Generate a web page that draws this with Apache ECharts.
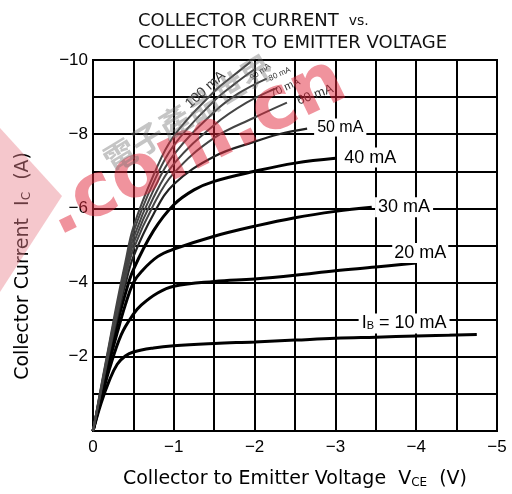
<!DOCTYPE html>
<html>
<head>
<meta charset="utf-8">
<script src="https://cdn.jsdelivr.net/npm/echarts@6/dist/echarts.min.js"></script>
<style>
  html, body { margin: 0; padding: 0; background: #fff; }
  #chart { width: 512px; height: 494px; }
</style>
</head>
<body>
<div id="chart"></div>
<script>
// collector-emitter voltage ticks (V) and collector current ticks (A)
var vceTicks = [0, -1, -2, -3, -4, -5];
var icTicks = [0, -2, -4, -6, -8, -10];

// one curve per base current, points are [VCE, IC]
var ib10 = [[0,0],[-0.1,-0.75],[-0.2,-1.35],[-0.3,-1.8],[-0.4,-2.02],[-0.5,-2.13],[-0.75,-2.24],[-1,-2.3],[-1.5,-2.36],[-2,-2.4],[-2.5,-2.45],[-3,-2.5],[-3.5,-2.53],[-4,-2.56],[-4.75,-2.6]];
var ib20 = [[0,0],[-0.1,-0.85],[-0.2,-1.65],[-0.35,-2.6],[-0.5,-3.15],[-0.6,-3.4],[-0.8,-3.72],[-1,-3.9],[-1.5,-4.03],[-2,-4.1],[-2.5,-4.2],[-3,-4.32],[-3.5,-4.42],[-4,-4.53]];
var ib30 = [[0,0],[-0.1,-0.95],[-0.2,-1.85],[-0.3,-2.65],[-0.4,-3.4],[-0.5,-4.0],[-0.6,-4.3],[-0.8,-4.7],[-1,-4.9],[-1.5,-5.25],[-2,-5.52],[-2.5,-5.75],[-3,-5.92],[-3.45,-6.03]];
var ib40 = [[0,0],[-0.1,-1.0],[-0.2,-2.0],[-0.3,-2.9],[-0.4,-3.7],[-0.5,-4.35],[-0.75,-5.4],[-1,-6.1],[-1.25,-6.5],[-1.5,-6.73],[-2,-7.0],[-2.5,-7.22],[-3,-7.35]];
var ib50 = [[0,0],[-0.1,-1.05],[-0.2,-2.1],[-0.3,-3.05],[-0.4,-3.95],[-0.5,-4.7],[-0.75,-5.85],[-1,-6.65],[-1.5,-7.4],[-2,-7.8],[-2.3,-8.0],[-2.65,-8.15]];
var ib60 = [[0,0],[-0.1,-1.1],[-0.2,-2.15],[-0.3,-3.15],[-0.4,-4.1],[-0.5,-4.9],[-0.75,-6.1],[-1,-6.95],[-1.5,-7.9],[-2,-8.45],[-2.4,-8.85]];
var ib70 = [[0,0],[-0.1,-1.12],[-0.2,-2.2],[-0.3,-3.25],[-0.4,-4.25],[-0.5,-5.05],[-0.75,-6.3],[-1,-7.2],[-1.5,-8.25],[-1.9,-8.85],[-2.28,-9.25]];
var ib80 = [[0,0],[-0.1,-1.15],[-0.2,-2.25],[-0.3,-3.35],[-0.4,-4.35],[-0.5,-5.2],[-0.75,-6.5],[-1,-7.45],[-1.5,-8.6],[-1.8,-9.1],[-2.15,-9.5]];
var ib90 = [[0,0],[-0.1,-1.17],[-0.2,-2.3],[-0.3,-3.4],[-0.4,-4.45],[-0.5,-5.35],[-0.75,-6.7],[-1,-7.7],[-1.5,-8.9],[-1.75,-9.35],[-2,-9.75]];
var ib100 = [[0,0],[-0.1,-1.2],[-0.2,-2.35],[-0.3,-3.5],[-0.4,-4.55],[-0.5,-5.5],[-0.75,-6.9],[-1,-7.95],[-1.5,-9.15],[-1.75,-9.6],[-1.95,-9.95]];

var labels = ['I{s|B} = 10 mA', '20 mA', '30 mA', '40 mA', '50 mA', '60 mA', '70 mA', '80 mA', '90 mA', '100 mA'];

var chart = echarts.init(document.getElementById('chart'));

function minus(v) {
  return v === 0 ? '0' : '\u2212' + Math.abs(v);
}

// curve with a text tag put on the chart through the axes
function curve(data, w, color, tagAt, tag) {
  var s = {
    type: 'line',
    data: data,
    smooth: 0.4,
    showSymbol: false,
    silent: true,
    lineStyle: { color: color, width: w },
    z: 3
  };
  if (tagAt) {
    s.markPoint = {
      symbol: 'rect',
      symbolSize: 1,
      silent: true,
      itemStyle: { color: 'rgba(0,0,0,0)' },
      label: Object.assign({
        show: true,
        position: 'inside',
        color: '#000',
        fontFamily: 'Liberation Sans',
        fontSize: 18,
        formatter: tag.text
      }, tag.style),
      data: [{ coord: tagAt }]
    };
  }
  return s;
}

var option = {
  animation: false,
  backgroundColor: '#fff',
  title: {
    text: '{a|COLLECTOR CURRENT}  {b|vs.}\n{a|COLLECTOR TO EMITTER VOLTAGE}',
    left: 133,
    top: 5,
    textStyle: {
      rich: {
        a: { fontFamily: 'DejaVu Sans', fontWeight: 'normal', fontSize: 18, color: '#111', lineHeight: 22 },
        b: { fontFamily: 'DejaVu Sans', fontWeight: 'normal', fontSize: 14, color: '#111', lineHeight: 22 }
      }
    }
  },
  grid: { left: 93, right: 15, top: 60, bottom: 61, show: true, borderColor: '#000', borderWidth: 2 },
  xAxis: {
    type: 'value',
    min: vceTicks[vceTicks.length - 1],
    max: vceTicks[0],
    interval: 0.5,
    inverse: true,
    axisLine: { show: true, onZero: false, lineStyle: { color: '#000', width: 2 } },
    axisTick: { show: false },
    axisLabel: {
      margin: 8,
      color: '#000',
      fontFamily: 'Liberation Sans',
      fontSize: 17,
      formatter: function (v) { return vceTicks.indexOf(v) >= 0 ? minus(v) : ''; }
    },
    splitLine: { show: true, lineStyle: { color: '#000', width: 2 } },
    name: 'Collector to Emitter Voltage  V{s|CE}  (V)',
    nameLocation: 'middle',
    nameGap: 39,
    nameTextStyle: {
      fontFamily: 'DejaVu Sans', fontSize: 19, color: '#000',
      rich: { s: { fontFamily: 'DejaVu Sans', fontSize: 12, color: '#000', padding: [6, 0, 0, 0] } }
    }
  },
  yAxis: {
    type: 'value',
    min: icTicks[icTicks.length - 1],
    max: icTicks[0],
    interval: 1,
    inverse: true,
    axisLine: { show: true, onZero: false, lineStyle: { color: '#000', width: 2 } },
    axisTick: { show: false },
    axisLabel: {
      margin: 5,
      color: '#000',
      fontFamily: 'Liberation Sans',
      fontSize: 17,
      formatter: function (v) { return (v !== 0 && icTicks.indexOf(v) >= 0) ? minus(v) : ''; }
    },
    splitLine: { show: true, lineStyle: { color: '#000', width: 2 } }
  },
  graphic: [
    {
      type: 'text',
      left: 14,
      top: 152,
      rotation: Math.PI / 2,
      style: {
        text: 'Collector Current  I{s|C}  (A)',
        fill: '#000',
        font: '19px "DejaVu Sans"',
        rich: { s: { fontFamily: 'DejaVu Sans', fontSize: 12, fill: '#000', padding: [6, 0, 0, 0] } }
      },
      z: 10
    },
    {
      type: 'polygon',
      silent: true,
      shape: { points: [[0, 128], [62, 196], [0, 292]] },
      style: { fill: 'rgba(232,130,142,0.45)' },
      z: 20
    },
    {
      type: 'text',
      x: 66,
      y: 252,
      rotation: 0.45,
      silent: true,
      style: {
        text: '.com.cn',
        fill: 'rgba(225,40,60,0.5)',
        font: 'bold 74px "DejaVu Sans"',
        verticalAlign: 'bottom'
      },
      z: 20
    },
    {
      type: 'text',
      x: 98,
      y: 150,
      rotation: 0.55,
      silent: true,
      style: {
        text: '電子產品世界',
        fill: 'rgba(110,110,110,0.4)',
        font: 'bold 32px "Noto Sans CJK TC"'
      },
      z: 20
    }
  ],
  series: [
    curve(ib10, 3, '#000', [-3.85, -2.9], { text: labels[0], style: { backgroundColor: '#fff', padding: [1, 3], rich: { s: { fontSize: 11, padding: [6, 0, 0, 0] } } } }),
    curve(ib20, 3, '#000', [-4.05, -4.8], { text: labels[1], style: { backgroundColor: '#fff', padding: [1, 2] } }),
    curve(ib30, 3, '#000', [-3.85, -6.03], { text: labels[2], style: { backgroundColor: '#fff', padding: [1, 3] } }),
    curve(ib40, 3, '#000', [-3.43, -7.37], { text: labels[3], style: { backgroundColor: '#fff', padding: [1, 3] } }),
    curve(ib50, 2.2, '#222', [-3.06, -8.18], { text: labels[4], style: { fontSize: 16, backgroundColor: '#fff', padding: [1, 3] } }),
    curve(ib60, 2, '#444', [-2.75, -9.06], { text: labels[5], style: { fontSize: 13, rotate: 20, color: '#333' } }),
    curve(ib70, 2, '#444', [-2.38, -9.25], { text: labels[6], style: { fontSize: 11, rotate: 25, color: '#333' } }),
    curve(ib80, 2, '#444', [-2.31, -9.62], { text: labels[7], style: { fontSize: 8, rotate: 25, color: '#333' } }),
    curve(ib90, 2, '#444', [-2.07, -9.68], { text: labels[8], style: { fontSize: 8, rotate: 35, color: '#333' } }),
    curve(ib100, 2, '#444', [-1.39, -9.2], { text: labels[9], style: { fontSize: 14, rotate: 42, color: '#333' } })
  ]
};

chart.setOption(option);
</script>
</body>
</html>
